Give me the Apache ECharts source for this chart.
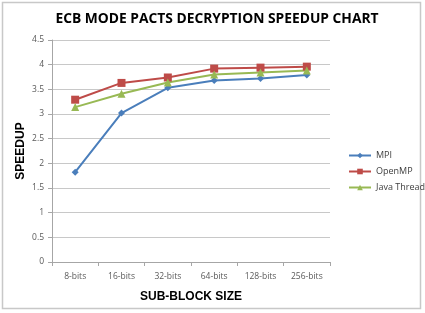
<!DOCTYPE html>
<html><head><meta charset="utf-8">
<script src="https://cdn.jsdelivr.net/npm/echarts@6/dist/echarts.min.js"></script>
<style>html,body{margin:0;padding:0;background:#fff}#c{width:425px;height:313px}</style>
</head><body><div id="c"></div>
<script>
var categories = ['8-bits','16-bits','32-bits','64-bits','128-bits','256-bits'];
var mpi = [1.82, 3.02, 3.53, 3.68, 3.72, 3.79];
var openmp = [3.29, 3.63, 3.74, 3.92, 3.94, 3.96];
var javaThread = [3.14, 3.41, 3.64, 3.80, 3.84, 3.88];
var yTicks = {min: 0, max: 4.5, interval: 0.5};

var chart = echarts.init(document.getElementById('c'));
var lab = {color:'#595959', fontSize: 8.5, fontFamily: 'Open Sans'};
function ser(name, data, color, symbol, size){
  return {name:name, type:'line', data:data, symbol:symbol, symbolSize:size,
    lineStyle:{color:color, width:2}, itemStyle:{color:color}};
}
chart.setOption({
  animation:false,
  title:{text:'ECB MODE PACTS DECRYPTION SPEEDUP CHART', left:212, top:7, textAlign:'center',
    textStyle:{fontFamily:'Open Sans', fontWeight:'bold', fontSize:13.8, color:'#000'}},
  graphic:[{type:'rect', shape:{x:2.5,y:2.5,width:418,height:306}, style:{fill:null, stroke:'#c8c8c8', lineWidth:1.5}, silent:true}],
  legend:{orient:'vertical', left:343, top:146, itemGap:7, itemWidth:22, itemHeight:7,
    textStyle:{fontFamily:'Open Sans', fontSize:9, color:'#404040'},
    data:['MPI','OpenMP','Java Thread']},
  grid:{left:52, right:95, top:40, bottom:51},
  xAxis:{type:'category', data:categories, boundaryGap:true,
    name:'SUB-BLOCK SIZE', nameLocation:'middle', nameGap:29,
    nameTextStyle:{fontFamily:'Liberation Sans', fontWeight:'bold', fontSize:12, color:'#000'},
    axisLine:{lineStyle:{color:'#a6a6a6'}}, axisTick:{show:true, length:4, lineStyle:{color:'#a6a6a6'}},
    axisLabel:Object.assign({margin:10}, lab)},
  yAxis:{type:'value', min:yTicks.min, max:yTicks.max, interval:yTicks.interval,
    name:'SPEEDUP', nameLocation:'middle', nameGap:25, nameMoveOverlap:false,
    nameTextStyle:{fontFamily:'Liberation Sans', fontWeight:'bold', fontSize:12, color:'#000'},
    axisLine:{show:true, lineStyle:{color:'#a6a6a6'}}, axisTick:{show:true, length:4, lineStyle:{color:'#a6a6a6'}},
    splitLine:{lineStyle:{color:'#c8c8c8'}},
    axisLabel:Object.assign({margin:8}, lab)},
  series:[
    ser('MPI', mpi, '#4A7EBB', 'diamond', 7),
    ser('OpenMP', openmp, '#BE4B48', 'rect', 8),
    ser('Java Thread', javaThread, '#98B954', 'triangle', 8)
  ]
});
</script></body></html>
